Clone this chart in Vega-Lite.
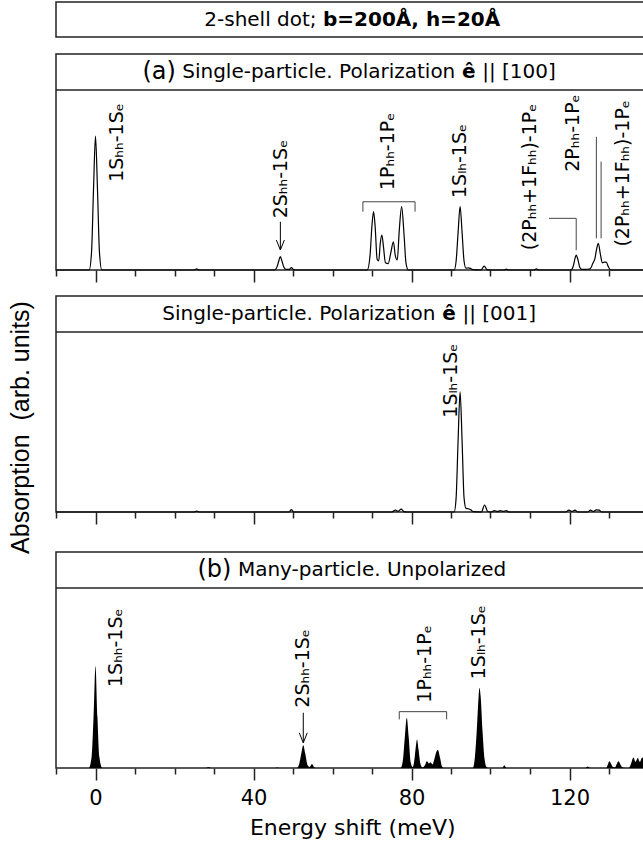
{
  "$schema": "https://vega.github.io/schema/vega-lite/v6.json",
  "padding": {"left": 7, "top": 1, "right": 0, "bottom": 0},
  "spacing": 0,
  "bounds": "flush",
  "config": {
    "font": "DejaVu Sans",
    "view": {"stroke": "#222", "strokeWidth": 1.5},
    "axis": {"grid": false, "domain": false},
    "axisY": {"ticks": false, "labels": false, "domain": false, "grid": false},
    "text": {"color": "#000", "font": "DejaVu Sans"}
  },
  "vconcat": [
    {
      "width": 592.5, "height": 35,
      "layer": [
        {"data": {"values": [{}]}, "mark": {"type": "text", "text": "2-shell dot;", "fontSize": 20, "align": "left", "baseline": "middle"},
         "encoding": {"x": {"datum": 27.54, "scale": {"domain": [-10, 140], "nice": false, "zero": false}, "axis": null}}},
        {"data": {"values": [{}]}, "mark": {"type": "text", "text": "b=200Å, h=20Å", "fontSize": 20, "fontWeight": "bold", "align": "left", "baseline": "middle"},
         "encoding": {"x": {"datum": 57.6}}}
      ]
    },
    {"width": 592.5, "height": 16.5, "data": {"values": [{}]}, "mark": {"type": "point", "opacity": 0}, "view": {"stroke": null}},
    {
      "width": 592.5, "height": 216,
      "resolve": {"scale": {"x": "shared", "y": "shared"}, "axis": {"x": "independent"}},
      "layer": [
        {
          "layer": [
            {
              "data": {"values": [
                {"x": -10, "y": 0}, {"x": -1.6, "y": 0}, {"x": -1, "y": 10}, {"x": -0.5, "y": 45}, {"x": 0, "y": 74.4}, {"x": 0.5, "y": 45}, {"x": 1, "y": 10}, {"x": 1.6, "y": 0},
                {"x": 25, "y": 0}, {"x": 25.6, "y": 0.6}, {"x": 26.2, "y": 0},
                {"x": 45.3, "y": 0}, {"x": 46, "y": 2}, {"x": 46.4, "y": 5}, {"x": 46.8, "y": 7.4}, {"x": 47.2, "y": 5}, {"x": 47.7, "y": 1.5}, {"x": 48.2, "y": 0.4}, {"x": 49, "y": 0.3}, {"x": 49.6, "y": 1.3}, {"x": 50.1, "y": 0.3}, {"x": 50.6, "y": 0},
                {"x": 68.8, "y": 0}, {"x": 69.5, "y": 8}, {"x": 70, "y": 25}, {"x": 70.4, "y": 32.4}, {"x": 70.8, "y": 24}, {"x": 71.3, "y": 6}, {"x": 71.7, "y": 5}, {"x": 72.1, "y": 15}, {"x": 72.5, "y": 19.4}, {"x": 72.9, "y": 13}, {"x": 73.4, "y": 4}, {"x": 74.1, "y": 3.5}, {"x": 74.8, "y": 10}, {"x": 75.4, "y": 15.7}, {"x": 75.9, "y": 8}, {"x": 76.4, "y": 5.6}, {"x": 76.9, "y": 22}, {"x": 77.5, "y": 35.2}, {"x": 78.1, "y": 20}, {"x": 78.6, "y": 4}, {"x": 79.2, "y": 0},
                {"x": 90.8, "y": 0}, {"x": 91.3, "y": 5}, {"x": 91.8, "y": 21}, {"x": 92.3, "y": 35.2}, {"x": 92.8, "y": 21}, {"x": 93.3, "y": 5}, {"x": 93.8, "y": 1}, {"x": 94.5, "y": 1.2}, {"x": 95, "y": 0.8}, {"x": 95.5, "y": 0.2}, {"x": 97.6, "y": 0}, {"x": 98.4, "y": 2.2}, {"x": 99.1, "y": 0.2}, {"x": 100, "y": 0},
                {"x": 103.5, "y": 0}, {"x": 104, "y": 0.5}, {"x": 104.5, "y": 0}, {"x": 111, "y": 0}, {"x": 111.6, "y": 0.6}, {"x": 112.2, "y": 0},
                {"x": 120.4, "y": 0}, {"x": 121, "y": 2.5}, {"x": 121.4, "y": 6.5}, {"x": 121.7, "y": 8.3}, {"x": 122.1, "y": 6}, {"x": 122.6, "y": 1.5}, {"x": 123.1, "y": 0.3}, {"x": 124, "y": 0.4}, {"x": 125, "y": 0.5}, {"x": 125.6, "y": 2}, {"x": 125.9, "y": 3.7}, {"x": 126.4, "y": 6}, {"x": 126.9, "y": 12}, {"x": 127.3, "y": 14.8}, {"x": 127.8, "y": 9}, {"x": 128.3, "y": 4}, {"x": 128.8, "y": 4.4}, {"x": 129.3, "y": 4.4}, {"x": 129.8, "y": 2}, {"x": 130.3, "y": 0.3}, {"x": 131, "y": 0}, {"x": 140, "y": 0}
              ]},
              "mark": {"type": "line", "interpolate": "monotone", "color": "#000", "strokeWidth": 1.2},
              "encoding": {
                "x": {"field": "x", "type": "quantitative", "scale": {"domain": [-10, 140], "nice": false, "zero": false},
                      "axis": {"orient": "bottom", "title": null, "values": [0, 40, 80, 120], "labels": false, "tickSize": 12, "tickColor": "#222", "tickWidth": 1.5}},
                "y": {"field": "y", "type": "quantitative", "scale": {"domain": [0, 120], "nice": false}, "axis": null}
              }
            },
            {"data": {"values": [{}]}, "mark": {"type": "rule", "color": "#222", "strokeWidth": 1.5}, "encoding": {"y": {"datum": 100}}},
            {"data": {"values": [{}]}, "mark": {"type": "text", "text": "(a)", "fontSize": 24, "align": "left", "baseline": "middle"}, "encoding": {"x": {"datum": 11.87}, "y": {"datum": 110}}},
            {"data": {"values": [{}]}, "mark": {"type": "text", "text": "Single-particle. Polarization", "fontSize": 20, "align": "left", "baseline": "middle"}, "encoding": {"x": {"datum": 21.95}, "y": {"datum": 110}}},
            {"data": {"values": [{}]}, "mark": {"type": "text", "text": "ê", "fontSize": 20, "fontWeight": "bold", "align": "left", "baseline": "middle"}, "encoding": {"x": {"datum": 92.8}, "y": {"datum": 110}}},
            {"data": {"values": [{}]}, "mark": {"type": "text", "text": "|| [100]", "fontSize": 20, "align": "left", "baseline": "middle"}, "encoding": {"x": {"datum": 97.9}, "y": {"datum": 110}}},
            {
              "data": {"values": [
                {"g": "br", "o": 1, "x": 67.7, "y": 32.4}, {"g": "br", "o": 2, "x": 67.7, "y": 37.9}, {"g": "br", "o": 3, "x": 80.9, "y": 37.9}, {"g": "br", "o": 4, "x": 80.9, "y": 32.4},
                {"g": "ld", "o": 1, "x": 114.8, "y": 28.7}, {"g": "ld", "o": 2, "x": 121.7, "y": 28.7}, {"g": "ld", "o": 3, "x": 121.7, "y": 11},
                {"g": "v1", "o": 1, "x": 126.8, "y": 74}, {"g": "v1", "o": 2, "x": 126.8, "y": 17.6},
                {"g": "v2", "o": 1, "x": 128, "y": 60.2}, {"g": "v2", "o": 2, "x": 128, "y": 17.6}
              ]},
              "mark": {"type": "line", "color": "#444", "strokeWidth": 1},
              "encoding": {"x": {"field": "x", "type": "quantitative"}, "y": {"field": "y", "type": "quantitative"}, "detail": {"field": "g"}, "order": {"field": "o"}}
            },
            {
              "data": {"values": [{"x": 46.8, "y": 26.8, "y2": 11.1}]},
              "layer": [
                {"mark": {"type": "rule", "color": "#000", "strokeWidth": 1}, "encoding": {"x": {"field": "x", "type": "quantitative"}, "y": {"field": "y", "type": "quantitative"}, "y2": {"field": "y2"}}},
                {"mark": {"type": "point", "shape": "M-0.4,-1L0,0L0.4,-1", "size": 400, "filled": false, "color": "#000", "strokeWidth": 1, "opacity": 1},
                 "encoding": {"x": {"field": "x", "type": "quantitative"}, "y": {"field": "y2", "type": "quantitative"}}}
              ]
            }
          ]
        },
        {
          "data": {"values": [
            {"x": 5.5, "y": 49, "t": "1Sₕₕ-1Sₑ"}, {"x": 47, "y": 28.7, "t": "2Sₕₕ-1Sₑ"}, {"x": 74, "y": 44.4, "t": "1Pₕₕ-1Pₑ"}, {"x": 92.4, "y": 40, "t": "1Sₗₕ-1Sₑ"},
            {"x": 110, "y": 11, "t": "(2Pₕₕ+1Fₕₕ)-1Pₑ"}, {"x": 120.8, "y": 54.6, "t": "2Pₕₕ-1Pₑ"}, {"x": 133.5, "y": 13, "t": "(2Pₕₕ+1Fₕₕ)-1Pₑ"}
          ]},
          "mark": {"type": "text", "angle": 270, "align": "left", "baseline": "middle", "fontSize": 19},
          "encoding": {
            "x": {"field": "x", "type": "quantitative", "axis": {"orient": "bottom", "title": null, "values": [-10, 10, 20, 30, 50, 60, 70, 90, 100, 110, 130, 140], "labels": false, "tickSize": 6, "tickColor": "#222", "tickWidth": 1.5}},
            "y": {"field": "y", "type": "quantitative"}, "text": {"field": "t"}}
        }
      ]
    },
    {"width": 592.5, "height": 25.5, "data": {"values": [{}]}, "mark": {"type": "point", "opacity": 0}, "view": {"stroke": null}},
    {
      "width": 592.5, "height": 216,
      "resolve": {"scale": {"x": "shared", "y": "shared"}, "axis": {"x": "independent"}},
      "layer": [
        {
          "layer": [
            {
              "data": {"values": [
                {"x": -10, "y": 0}, {"x": 25, "y": 0}, {"x": 25.6, "y": 0.5}, {"x": 26.2, "y": 0}, {"x": 49, "y": 0}, {"x": 49.6, "y": 1.3}, {"x": 50.2, "y": 0},
                {"x": 75, "y": 0}, {"x": 75.9, "y": 1}, {"x": 76.6, "y": 0.4}, {"x": 77.4, "y": 1.6}, {"x": 78.1, "y": 0.2}, {"x": 78.8, "y": 0},
                {"x": 90.8, "y": 0}, {"x": 91.3, "y": 8}, {"x": 91.8, "y": 40}, {"x": 92.3, "y": 66.7}, {"x": 92.8, "y": 40}, {"x": 93.3, "y": 8}, {"x": 93.8, "y": 2}, {"x": 94.4, "y": 1.8}, {"x": 95, "y": 1.2}, {"x": 95.6, "y": 0.2},
                {"x": 97.7, "y": 0}, {"x": 98.5, "y": 3.9}, {"x": 99.3, "y": 0.3}, {"x": 100.2, "y": 0}, {"x": 101, "y": 0.8}, {"x": 101.7, "y": 0.2}, {"x": 102.5, "y": 0.8}, {"x": 103.3, "y": 0.3}, {"x": 104, "y": 0.8}, {"x": 104.7, "y": 0},
                {"x": 119, "y": 0}, {"x": 119.8, "y": 1}, {"x": 120.6, "y": 0.3}, {"x": 121.4, "y": 1}, {"x": 122.1, "y": 0},
                {"x": 124.6, "y": 0}, {"x": 125.3, "y": 1}, {"x": 126, "y": 0.3}, {"x": 126.8, "y": 1.2}, {"x": 127.5, "y": 1}, {"x": 128.2, "y": 0}, {"x": 140, "y": 0}
              ]},
              "mark": {"type": "line", "interpolate": "monotone", "color": "#000", "strokeWidth": 1.2},
              "encoding": {
                "x": {"field": "x", "type": "quantitative", "scale": {"domain": [-10, 140], "nice": false, "zero": false},
                      "axis": {"orient": "bottom", "title": null, "values": [0, 40, 80, 120], "labels": false, "tickSize": 12, "tickColor": "#222", "tickWidth": 1.5}},
                "y": {"field": "y", "type": "quantitative", "scale": {"domain": [0, 120], "nice": false},
                      "axis": {"title": "Absorption\u00a0 (arb. units)", "titleFont": "Liberation Sans", "titleFontSize": 25, "titleFontWeight": "normal", "titleColor": "#000", "titlePadding": 23, "titleY": 131}}
              }
            },
            {"data": {"values": [{}]}, "mark": {"type": "rule", "color": "#222", "strokeWidth": 1.5}, "encoding": {"y": {"datum": 100}}},
            {"data": {"values": [{}]}, "mark": {"type": "text", "text": "Single-particle. Polarization", "fontSize": 20, "align": "left", "baseline": "middle"}, "encoding": {"x": {"datum": 16.92}, "y": {"datum": 110}}},
            {"data": {"values": [{}]}, "mark": {"type": "text", "text": "ê", "fontSize": 20, "fontWeight": "bold", "align": "left", "baseline": "middle"}, "encoding": {"x": {"datum": 87.8}, "y": {"datum": 110}}},
            {"data": {"values": [{}]}, "mark": {"type": "text", "text": "|| [001]", "fontSize": 20, "align": "left", "baseline": "middle"}, "encoding": {"x": {"datum": 92.9}, "y": {"datum": 110}}}
          ]
        },
        {
          "data": {"values": [{"x": 90, "y": 52.4, "t": "1Sₗₕ-1Sₑ"}]},
          "mark": {"type": "text", "angle": 270, "align": "left", "baseline": "middle", "fontSize": 19},
          "encoding": {
            "x": {"field": "x", "type": "quantitative", "axis": {"orient": "bottom", "title": null, "values": [-10, 10, 20, 30, 50, 60, 70, 90, 100, 110, 130, 140], "labels": false, "tickSize": 6, "tickColor": "#222", "tickWidth": 1.5}},
            "y": {"field": "y", "type": "quantitative"}, "text": {"field": "t"}}
        }
      ]
    },
    {"width": 592.5, "height": 40, "data": {"values": [{}]}, "mark": {"type": "point", "opacity": 0}, "view": {"stroke": null}},
    {
      "width": 592.5, "height": 216,
      "resolve": {"scale": {"x": "shared", "y": "shared"}, "axis": {"x": "independent"}},
      "layer": [
        {
          "layer": [
            {
              "data": {"values": [
                {"x": -10, "y": 0}, {"x": -1.7, "y": 0}, {"x": -1, "y": 6}, {"x": -0.5, "y": 28}, {"x": 0, "y": 56.7}, {"x": 0.5, "y": 28}, {"x": 1, "y": 6}, {"x": 1.7, "y": 0},
                {"x": 28, "y": 0}, {"x": 28.6, "y": 0.5}, {"x": 29.2, "y": 0}, {"x": 45.5, "y": 0}, {"x": 46, "y": 0.3}, {"x": 46.5, "y": 0},
                {"x": 51, "y": 0}, {"x": 51.6, "y": 2.5}, {"x": 52.1, "y": 8}, {"x": 52.6, "y": 12.6}, {"x": 53.1, "y": 8}, {"x": 53.7, "y": 1.5}, {"x": 54.2, "y": 0.6}, {"x": 54.8, "y": 2.2}, {"x": 55.4, "y": 0.3}, {"x": 56, "y": 0},
                {"x": 77.2, "y": 0}, {"x": 77.8, "y": 4}, {"x": 78.3, "y": 17}, {"x": 78.8, "y": 27.9}, {"x": 79.3, "y": 17}, {"x": 79.8, "y": 3}, {"x": 80.3, "y": 0.5}, {"x": 80.7, "y": 4}, {"x": 81.1, "y": 12}, {"x": 81.4, "y": 15.9}, {"x": 81.8, "y": 10}, {"x": 82.3, "y": 2}, {"x": 82.8, "y": 0.3},
                {"x": 83.4, "y": 1.5}, {"x": 83.9, "y": 3.7}, {"x": 84.4, "y": 2.5}, {"x": 84.8, "y": 3.2}, {"x": 85.3, "y": 2}, {"x": 85.8, "y": 5}, {"x": 86.3, "y": 9}, {"x": 86.7, "y": 10}, {"x": 87.2, "y": 6}, {"x": 87.7, "y": 1}, {"x": 88.2, "y": 0},
                {"x": 95.5, "y": 0}, {"x": 96, "y": 5}, {"x": 96.5, "y": 20}, {"x": 97, "y": 40}, {"x": 97.2, "y": 44.6}, {"x": 97.5, "y": 40}, {"x": 98, "y": 20}, {"x": 98.5, "y": 5}, {"x": 99, "y": 0.5}, {"x": 99.5, "y": 0},
                {"x": 103, "y": 0}, {"x": 103.5, "y": 1.5}, {"x": 104, "y": 0}, {"x": 124, "y": 0}, {"x": 124.6, "y": 0.8}, {"x": 125.2, "y": 0},
                {"x": 129.3, "y": 0}, {"x": 129.7, "y": 2}, {"x": 130.1, "y": 3.7}, {"x": 130.6, "y": 2}, {"x": 131, "y": 0.5}, {"x": 131.5, "y": 0.3}, {"x": 131.9, "y": 2}, {"x": 132.4, "y": 3.7}, {"x": 132.9, "y": 2}, {"x": 133.4, "y": 0.3},
                {"x": 135, "y": 0}, {"x": 135.5, "y": 2}, {"x": 136.2, "y": 5.9}, {"x": 136.7, "y": 3.5}, {"x": 137.3, "y": 5.6}, {"x": 137.8, "y": 3.5}, {"x": 138.4, "y": 5.9}, {"x": 139, "y": 4}, {"x": 139.5, "y": 6}, {"x": 140, "y": 5}
              ]},
              "mark": {"type": "area", "interpolate": "monotone", "color": "#000", "opacity": 1},
              "encoding": {
                "x": {"field": "x", "type": "quantitative", "scale": {"domain": [-10, 140], "nice": false, "zero": false},
                      "axis": {"orient": "bottom", "title": "Energy shift (meV)", "values": [0, 40, 80, 120], "labels": true, "labelFlush": false, "labelOverlap": false,
                               "labelFontSize": 21, "labelColor": "#000", "labelPadding": 7,
                               "titleFontSize": 22, "titleFontWeight": "normal", "titleColor": "#000", "titlePadding": 9,
                               "tickSize": 12, "tickColor": "#222", "tickWidth": 1.5}},
                "y": {"field": "y", "type": "quantitative", "scale": {"domain": [0, 120], "nice": false}, "axis": null}
              }
            },
            {"data": {"values": [{}]}, "mark": {"type": "rule", "color": "#222", "strokeWidth": 1.5}, "encoding": {"y": {"datum": 100}}},
            {"data": {"values": [{}]}, "mark": {"type": "text", "text": "(b)", "fontSize": 24, "align": "left", "baseline": "middle"}, "encoding": {"x": {"datum": 25.82}, "y": {"datum": 110}}},
            {"data": {"values": [{}]}, "mark": {"type": "text", "text": "Many-particle. Unpolarized", "fontSize": 20, "align": "left", "baseline": "middle"}, "encoding": {"x": {"datum": 36.05}, "y": {"datum": 110}}},
            {
              "data": {"values": [
                {"g": "br", "o": 1, "x": 76.9, "y": 27}, {"g": "br", "o": 2, "x": 76.9, "y": 31.3}, {"g": "br", "o": 3, "x": 88.9, "y": 31.3}, {"g": "br", "o": 4, "x": 88.9, "y": 27}
              ]},
              "mark": {"type": "line", "color": "#444", "strokeWidth": 1},
              "encoding": {"x": {"field": "x", "type": "quantitative"}, "y": {"field": "y", "type": "quantitative"}, "detail": {"field": "g"}, "order": {"field": "o"}}
            },
            {
              "data": {"values": [{"x": 52.6, "y": 30.7, "y2": 14}]},
              "layer": [
                {"mark": {"type": "rule", "color": "#000", "strokeWidth": 1}, "encoding": {"x": {"field": "x", "type": "quantitative"}, "y": {"field": "y", "type": "quantitative"}, "y2": {"field": "y2"}}},
                {"mark": {"type": "point", "shape": "M-0.4,-1L0,0L0.4,-1", "size": 400, "filled": false, "color": "#000", "strokeWidth": 1, "opacity": 1},
                 "encoding": {"x": {"field": "x", "type": "quantitative"}, "y": {"field": "y2", "type": "quantitative"}}}
              ]
            }
          ]
        },
        {
          "data": {"values": [
            {"x": 5.2, "y": 45, "t": "1Sₕₕ-1Sₑ"}, {"x": 52.5, "y": 33.5, "t": "2Sₕₕ-1Sₑ"}, {"x": 83.3, "y": 36.3, "t": "1Pₕₕ-1Pₑ"}, {"x": 97.2, "y": 49.3, "t": "1Sₗₕ-1Sₑ"}
          ]},
          "mark": {"type": "text", "angle": 270, "align": "left", "baseline": "middle", "fontSize": 19},
          "encoding": {
            "x": {"field": "x", "type": "quantitative", "axis": {"orient": "bottom", "title": null, "values": [-10, 10, 20, 30, 50, 60, 70, 90, 100, 110, 130, 140], "labels": false, "tickSize": 6, "tickColor": "#222", "tickWidth": 1.5}},
            "y": {"field": "y", "type": "quantitative"}, "text": {"field": "t"}}
        }
      ]
    }
  ]
}
